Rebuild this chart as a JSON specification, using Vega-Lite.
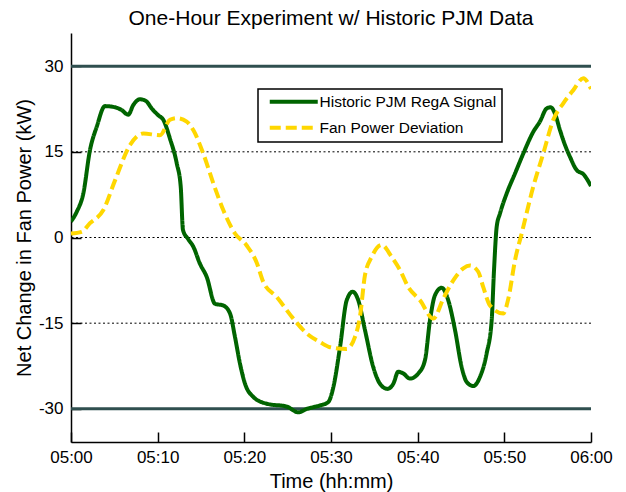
{
  "$schema": "https://vega.github.io/schema/vega-lite/v6.json",
  "width": 520,
  "height": 409,
  "autosize": {"type": "none"},
  "padding": {"left": 71, "top": 33, "right": 35, "bottom": 50},
  "background": "white",
  "title": {"text": "One-Hour Experiment w/ Historic PJM Data", "fontSize": 21, "font": "Liberation Sans", "fontWeight": "normal", "color": "black", "anchor": "middle", "offset": 4},
  "config": {
    "view": {"stroke": null},
    "font": "Liberation Sans",
    "axis": {"grid": false, "domainColor": "black", "domainWidth": 1.5, "tickColor": "black", "tickWidth": 1.5, "tickSize": -10, "labelColor": "black", "titleColor": "black", "labelFont": "Liberation Sans", "titleFont": "Liberation Sans", "labelFontSize": 17, "titleFontSize": 20, "titleFontWeight": "normal", "labelFlush": false},
    "legend": {"strokeWidth": 1.5}
  },
  "datasets": {
    "series": [
      {"t": 0, "v": 2.8, "s": "Historic PJM RegA Signal"},
      {"t": 0.66, "v": 4.5, "s": "Historic PJM RegA Signal"},
      {"t": 1.42, "v": 7.7, "s": "Historic PJM RegA Signal"},
      {"t": 2.19, "v": 15.3, "s": "Historic PJM RegA Signal"},
      {"t": 2.97, "v": 19.4, "s": "Historic PJM RegA Signal"},
      {"t": 3.92, "v": 23.0, "s": "Historic PJM RegA Signal"},
      {"t": 5.08, "v": 22.8, "s": "Historic PJM RegA Signal"},
      {"t": 5.85, "v": 22.3, "s": "Historic PJM RegA Signal"},
      {"t": 6.61, "v": 21.5, "s": "Historic PJM RegA Signal"},
      {"t": 7.19, "v": 23.2, "s": "Historic PJM RegA Signal"},
      {"t": 7.96, "v": 24.2, "s": "Historic PJM RegA Signal"},
      {"t": 8.65, "v": 23.9, "s": "Historic PJM RegA Signal"},
      {"t": 9.31, "v": 22.6, "s": "Historic PJM RegA Signal"},
      {"t": 10.07, "v": 21.4, "s": "Historic PJM RegA Signal"},
      {"t": 10.65, "v": 20.6, "s": "Historic PJM RegA Signal"},
      {"t": 11.42, "v": 17.3, "s": "Historic PJM RegA Signal"},
      {"t": 12.2, "v": 13.0, "s": "Historic PJM RegA Signal"},
      {"t": 12.66, "v": 8.9, "s": "Historic PJM RegA Signal"},
      {"t": 12.92, "v": 1.3, "s": "Historic PJM RegA Signal"},
      {"t": 13.53, "v": -0.3, "s": "Historic PJM RegA Signal"},
      {"t": 14.11, "v": -1.6, "s": "Historic PJM RegA Signal"},
      {"t": 14.88, "v": -4.6, "s": "Historic PJM RegA Signal"},
      {"t": 15.66, "v": -6.9, "s": "Historic PJM RegA Signal"},
      {"t": 16.61, "v": -11.6, "s": "Historic PJM RegA Signal"},
      {"t": 17.57, "v": -11.9, "s": "Historic PJM RegA Signal"},
      {"t": 18.35, "v": -13.3, "s": "Historic PJM RegA Signal"},
      {"t": 18.92, "v": -17.4, "s": "Historic PJM RegA Signal"},
      {"t": 19.5, "v": -22.1, "s": "Historic PJM RegA Signal"},
      {"t": 20.08, "v": -25.6, "s": "Historic PJM RegA Signal"},
      {"t": 21.03, "v": -27.9, "s": "Historic PJM RegA Signal"},
      {"t": 22.58, "v": -29.1, "s": "Historic PJM RegA Signal"},
      {"t": 24.89, "v": -29.6, "s": "Historic PJM RegA Signal"},
      {"t": 26.23, "v": -30.6, "s": "Historic PJM RegA Signal"},
      {"t": 27.2, "v": -30.0, "s": "Historic PJM RegA Signal"},
      {"t": 27.96, "v": -29.7, "s": "Historic PJM RegA Signal"},
      {"t": 28.73, "v": -29.4, "s": "Historic PJM RegA Signal"},
      {"t": 29.69, "v": -28.8, "s": "Historic PJM RegA Signal"},
      {"t": 30.27, "v": -26.2, "s": "Historic PJM RegA Signal"},
      {"t": 31.04, "v": -19.2, "s": "Historic PJM RegA Signal"},
      {"t": 31.81, "v": -11.0, "s": "Historic PJM RegA Signal"},
      {"t": 32.5, "v": -9.5, "s": "Historic PJM RegA Signal"},
      {"t": 33.15, "v": -11.0, "s": "Historic PJM RegA Signal"},
      {"t": 33.92, "v": -16.2, "s": "Historic PJM RegA Signal"},
      {"t": 34.88, "v": -22.7, "s": "Historic PJM RegA Signal"},
      {"t": 35.65, "v": -25.6, "s": "Historic PJM RegA Signal"},
      {"t": 36.5, "v": -26.5, "s": "Historic PJM RegA Signal"},
      {"t": 37.19, "v": -25.6, "s": "Historic PJM RegA Signal"},
      {"t": 37.76, "v": -23.5, "s": "Historic PJM RegA Signal"},
      {"t": 38.34, "v": -23.8, "s": "Historic PJM RegA Signal"},
      {"t": 39.11, "v": -24.7, "s": "Historic PJM RegA Signal"},
      {"t": 40.07, "v": -23.8, "s": "Historic PJM RegA Signal"},
      {"t": 40.84, "v": -21.5, "s": "Historic PJM RegA Signal"},
      {"t": 41.42, "v": -14.5, "s": "Historic PJM RegA Signal"},
      {"t": 42.0, "v": -10.1, "s": "Historic PJM RegA Signal"},
      {"t": 42.77, "v": -8.8, "s": "Historic PJM RegA Signal"},
      {"t": 43.53, "v": -11.0, "s": "Historic PJM RegA Signal"},
      {"t": 44.31, "v": -16.2, "s": "Historic PJM RegA Signal"},
      {"t": 45.08, "v": -22.7, "s": "Historic PJM RegA Signal"},
      {"t": 45.66, "v": -25.3, "s": "Historic PJM RegA Signal"},
      {"t": 46.42, "v": -26.0, "s": "Historic PJM RegA Signal"},
      {"t": 47.19, "v": -24.4, "s": "Historic PJM RegA Signal"},
      {"t": 47.96, "v": -20.3, "s": "Historic PJM RegA Signal"},
      {"t": 48.54, "v": -14.5, "s": "Historic PJM RegA Signal"},
      {"t": 48.81, "v": -5.7, "s": "Historic PJM RegA Signal"},
      {"t": 49.12, "v": 1.9, "s": "Historic PJM RegA Signal"},
      {"t": 49.5, "v": 4.2, "s": "Historic PJM RegA Signal"},
      {"t": 50.27, "v": 7.7, "s": "Historic PJM RegA Signal"},
      {"t": 51.23, "v": 11.2, "s": "Historic PJM RegA Signal"},
      {"t": 52.19, "v": 14.7, "s": "Historic PJM RegA Signal"},
      {"t": 53.34, "v": 18.5, "s": "Historic PJM RegA Signal"},
      {"t": 54.11, "v": 20.3, "s": "Historic PJM RegA Signal"},
      {"t": 54.89, "v": 22.6, "s": "Historic PJM RegA Signal"},
      {"t": 55.35, "v": 22.8, "s": "Historic PJM RegA Signal"},
      {"t": 55.84, "v": 21.7, "s": "Historic PJM RegA Signal"},
      {"t": 56.42, "v": 18.8, "s": "Historic PJM RegA Signal"},
      {"t": 57.0, "v": 16.2, "s": "Historic PJM RegA Signal"},
      {"t": 57.58, "v": 14.1, "s": "Historic PJM RegA Signal"},
      {"t": 58.35, "v": 11.8, "s": "Historic PJM RegA Signal"},
      {"t": 59.11, "v": 11.1, "s": "Historic PJM RegA Signal"},
      {"t": 60, "v": 9.0, "s": "Historic PJM RegA Signal"},
      {"t": 0, "v": 0.7, "s": "Fan Power Deviation"},
      {"t": 1.23, "v": 1.0, "s": "Fan Power Deviation"},
      {"t": 2.19, "v": 2.5, "s": "Fan Power Deviation"},
      {"t": 3.73, "v": 4.8, "s": "Fan Power Deviation"},
      {"t": 5.08, "v": 10.0, "s": "Fan Power Deviation"},
      {"t": 6.81, "v": 16.2, "s": "Fan Power Deviation"},
      {"t": 8.34, "v": 18.2, "s": "Fan Power Deviation"},
      {"t": 10.27, "v": 17.9, "s": "Fan Power Deviation"},
      {"t": 11.42, "v": 20.6, "s": "Fan Power Deviation"},
      {"t": 12.2, "v": 20.9, "s": "Fan Power Deviation"},
      {"t": 13.35, "v": 20.3, "s": "Fan Power Deviation"},
      {"t": 14.11, "v": 18.8, "s": "Fan Power Deviation"},
      {"t": 15.26, "v": 14.7, "s": "Fan Power Deviation"},
      {"t": 16.42, "v": 9.5, "s": "Fan Power Deviation"},
      {"t": 17.57, "v": 4.8, "s": "Fan Power Deviation"},
      {"t": 18.92, "v": 0.7, "s": "Fan Power Deviation"},
      {"t": 20.27, "v": -1.4, "s": "Fan Power Deviation"},
      {"t": 21.43, "v": -4.4, "s": "Fan Power Deviation"},
      {"t": 22.19, "v": -7.8, "s": "Fan Power Deviation"},
      {"t": 23.73, "v": -10.4, "s": "Fan Power Deviation"},
      {"t": 25.65, "v": -14.2, "s": "Fan Power Deviation"},
      {"t": 27.2, "v": -16.8, "s": "Fan Power Deviation"},
      {"t": 28.73, "v": -18.3, "s": "Fan Power Deviation"},
      {"t": 29.89, "v": -19.2, "s": "Fan Power Deviation"},
      {"t": 31.81, "v": -19.5, "s": "Fan Power Deviation"},
      {"t": 32.77, "v": -17.4, "s": "Fan Power Deviation"},
      {"t": 33.34, "v": -13.9, "s": "Fan Power Deviation"},
      {"t": 33.92, "v": -6.6, "s": "Fan Power Deviation"},
      {"t": 34.69, "v": -3.4, "s": "Fan Power Deviation"},
      {"t": 35.85, "v": -1.3, "s": "Fan Power Deviation"},
      {"t": 37.0, "v": -3.4, "s": "Fan Power Deviation"},
      {"t": 37.96, "v": -5.7, "s": "Fan Power Deviation"},
      {"t": 38.92, "v": -8.7, "s": "Fan Power Deviation"},
      {"t": 40.27, "v": -11.0, "s": "Fan Power Deviation"},
      {"t": 41.8, "v": -14.2, "s": "Fan Power Deviation"},
      {"t": 42.96, "v": -10.7, "s": "Fan Power Deviation"},
      {"t": 44.11, "v": -7.5, "s": "Fan Power Deviation"},
      {"t": 45.26, "v": -5.4, "s": "Fan Power Deviation"},
      {"t": 46.04, "v": -4.9, "s": "Fan Power Deviation"},
      {"t": 46.99, "v": -6.0, "s": "Fan Power Deviation"},
      {"t": 47.57, "v": -8.7, "s": "Fan Power Deviation"},
      {"t": 48.34, "v": -11.9, "s": "Fan Power Deviation"},
      {"t": 49.88, "v": -13.3, "s": "Fan Power Deviation"},
      {"t": 50.46, "v": -10.7, "s": "Fan Power Deviation"},
      {"t": 51.23, "v": -4.0, "s": "Fan Power Deviation"},
      {"t": 52.0, "v": 0.7, "s": "Fan Power Deviation"},
      {"t": 53.34, "v": 8.9, "s": "Fan Power Deviation"},
      {"t": 54.49, "v": 14.7, "s": "Fan Power Deviation"},
      {"t": 55.65, "v": 20.6, "s": "Fan Power Deviation"},
      {"t": 56.8, "v": 23.5, "s": "Fan Power Deviation"},
      {"t": 57.96, "v": 25.8, "s": "Fan Power Deviation"},
      {"t": 59.11, "v": 27.9, "s": "Fan Power Deviation"},
      {"t": 60, "v": 26.0, "s": "Fan Power Deviation"}
    ]
  },
  "layer": [
    {
      "data": {"values": [{"v": 15}, {"v": 0}, {"v": -15}]},
      "mark": {"type": "rule", "color": "black", "strokeWidth": 1, "strokeDash": [2, 2.5]},
      "encoding": {"y": {"field": "v", "type": "quantitative", "scale": {"domain": [-35.8, 35.8], "nice": false},
        "axis": {"title": "Net Change in Fan Power (kW)", "values": [-30, -15, 0, 15, 30], "labelExpr": "'' + datum.value", "labelPadding": 18, "titleX": -47, "titleY": 204.5, "titleBaseline": "middle"}}}
    },
    {
      "data": {"values": [{"v": 30}, {"v": -30}]},
      "mark": {"type": "rule", "color": "#2f4f4f", "strokeWidth": 3},
      "encoding": {"y": {"field": "v", "type": "quantitative", "scale": {"domain": [-35.8, 35.8], "nice": false},
        "axis": {"title": "Net Change in Fan Power (kW)", "values": [-30, -15, 0, 15, 30], "labelExpr": "'' + datum.value", "labelPadding": 18, "titleX": -47, "titleY": 204.5, "titleBaseline": "middle"}}}
    },
    {
      "data": {"name": "series"},
      "mark": {"type": "line", "strokeWidth": 4, "interpolate": "monotone", "clip": true},
      "encoding": {
        "x": {"field": "t", "type": "quantitative", "scale": {"domain": [0, 60], "nice": false},
          "axis": {"title": "Time (hh:mm)", "values": [0, 10, 20, 30, 40, 50, 60], "labelExpr": "datum.value == 60 ? '06:00' : '05:' + (datum.value < 10 ? '0' : '') + datum.value", "labelPadding": 17, "titleX": 260, "titleY": 39, "titleBaseline": "middle"}},
        "y": {"field": "v", "type": "quantitative", "scale": {"domain": [-35.8, 35.8], "nice": false},
          "axis": {"title": "Net Change in Fan Power (kW)", "values": [-30, -15, 0, 15, 30], "labelExpr": "'' + datum.value", "labelPadding": 18, "titleX": -47, "titleY": 204.5, "titleBaseline": "middle"}},
        "color": {"field": "s", "type": "nominal", "sort": ["Historic PJM RegA Signal", "Fan Power Deviation"],
          "scale": {"domain": ["Historic PJM RegA Signal", "Fan Power Deviation"], "range": ["#006400", "#ffd700"]},
          "legend": {"title": null, "orient": "none", "legendX": 187, "legendY": 56, "symbolType": "M-12,0H12", "symbolSize": 16, "symbolOffset": 23, "symbolStrokeWidth": 4, "labelFontSize": 15.5, "labelFont": "Liberation Sans", "labelColor": "black", "labelLimit": 300, "strokeColor": "black", "fillColor": "white", "padding": 5, "rowPadding": 8, "labelOffset": 18}},
        "strokeDash": {"field": "s", "type": "nominal", "sort": ["Historic PJM RegA Signal", "Fan Power Deviation"],
          "scale": {"domain": ["Historic PJM RegA Signal", "Fan Power Deviation"], "range": [[1, 0], [11, 5]]},
          "legend": {"title": null, "orient": "none", "legendX": 187, "legendY": 56, "symbolType": "M-12,0H12", "symbolSize": 16, "symbolOffset": 23, "symbolStrokeWidth": 4, "labelFontSize": 15.5, "labelFont": "Liberation Sans", "labelColor": "black", "labelLimit": 300, "strokeColor": "black", "fillColor": "white", "padding": 5, "rowPadding": 8, "labelOffset": 18}}
      }
    }
  ]
}
